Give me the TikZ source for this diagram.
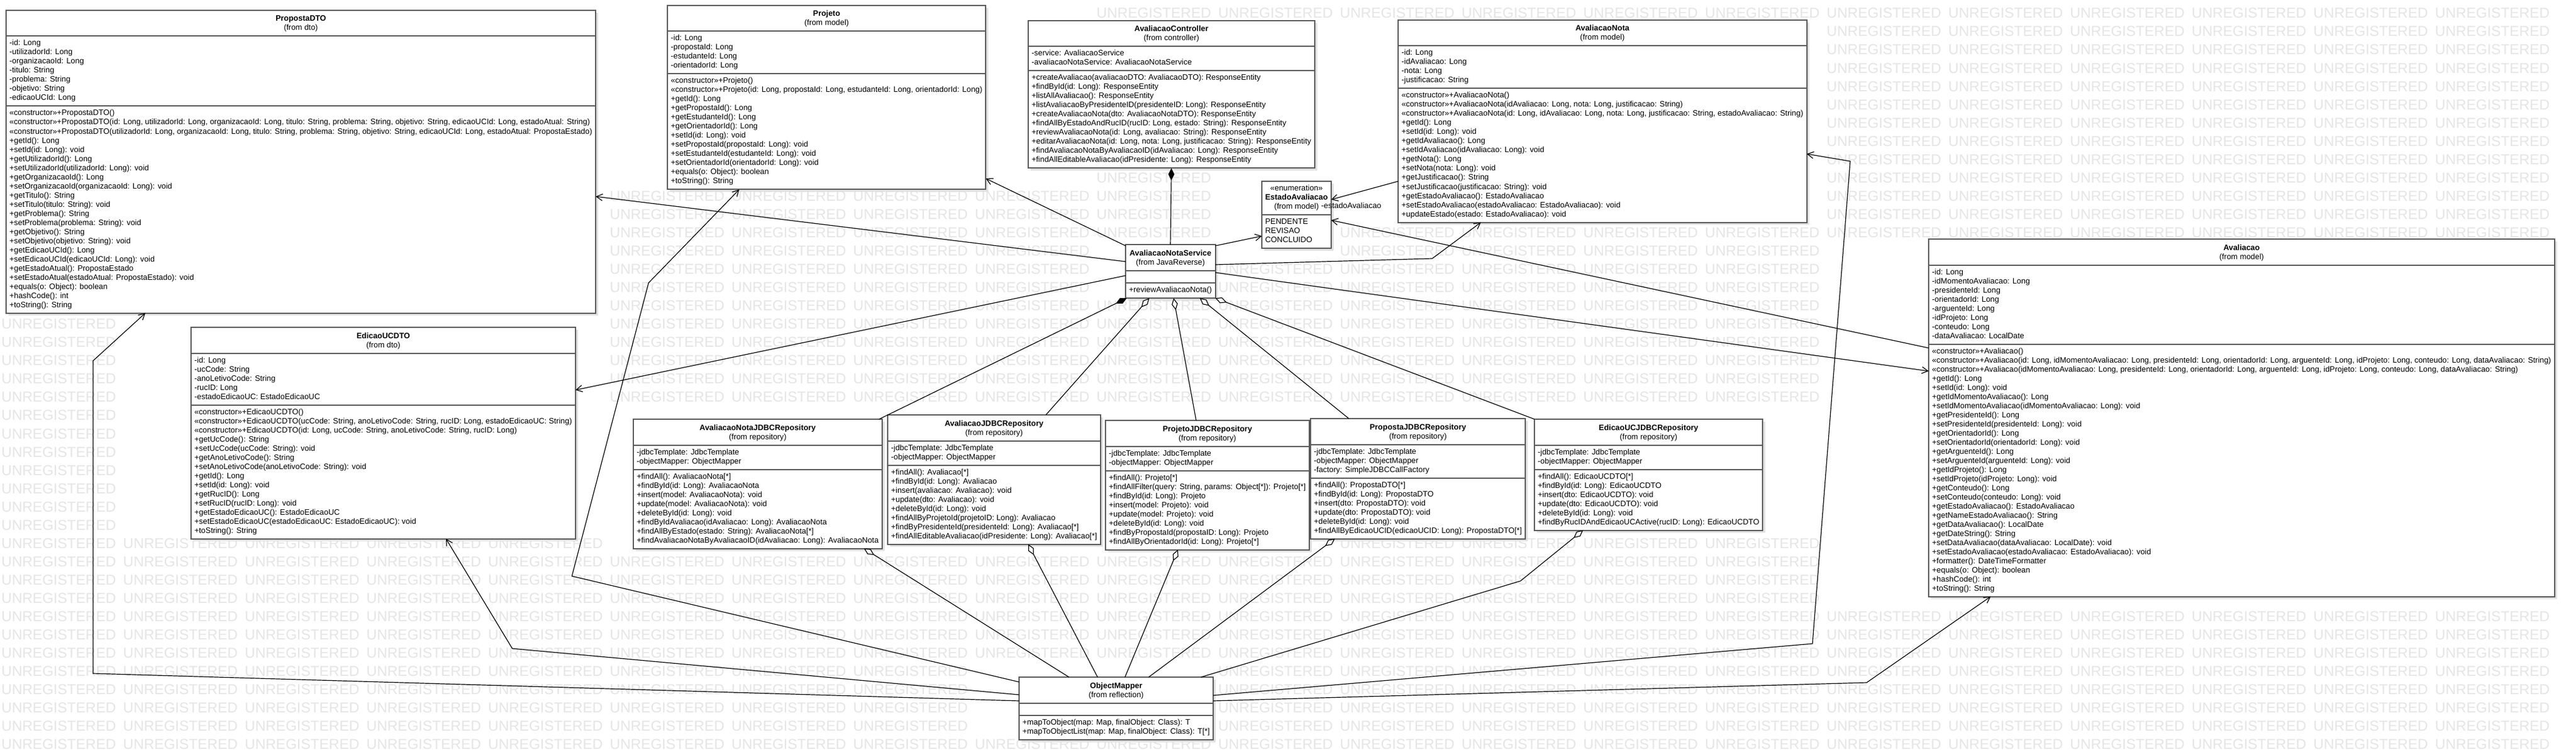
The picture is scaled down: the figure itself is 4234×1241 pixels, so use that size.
\documentclass[tikz,border=0pt]{standalone}
\usepackage{fontspec}
\setmainfont{Liberation Sans}
\usetikzlibrary{shapes.multipart,arrows.meta,shadows}

\newcommand{\umlfont}{\fontsize{6.45}{7.5}\selectfont}
\newcommand{\wmfont}{\fontsize{11.85}{12}\selectfont}
\newcommand{\umlhead}[2]{\begin{tabular}{@{}c@{}}\rule{0pt}{6.5pt}\textbf{#1}\\(from #2)\end{tabular}}
\newcommand{\umlpart}[1]{\begin{tabular}{@{}l@{}}#1\end{tabular}}

\begin{document}
\begin{tikzpicture}[x=0.5pt, y=-0.5pt,
    umlclass/.style={rectangle split, rectangle split parts=3,
        rectangle split part align={center,left,left},
        draw=black!65, line width=1pt, fill=white, anchor=north west,
        inner xsep=2.8pt, inner ysep=2pt, outer sep=0pt, font=\umlfont,
        drop shadow={shadow xshift=2pt, shadow yshift=-2pt, fill=black!12, opacity=1}},
    emptypart/.style={rectangle split empty part height=1pt, rectangle split empty part depth=0pt},
    wmark/.style={anchor=west, inner sep=0pt, text=black!10, font=\wmfont},
    assoc/.style={-{Straight Barb[length=5pt,width=5.5pt]}, line width=0.6pt},
    aggr/.style={{Diamond[open,fill=white,length=10pt,width=5pt]}-, line width=0.6pt},
    comp/.style={{Diamond[length=10pt,width=5pt]}-, line width=0.6pt}]

    \fill[white] (0,0) rectangle (4234,1241);
    \useasboundingbox (0,0) rectangle (4234,1241);

    \foreach \m in {0,...,40}{
        \foreach \k in {0,...,20}{
            \pgfmathsetmacro\wmx{2+200*\k}
            \pgfmathsetmacro\wmy{21.7+30.05*\m}
            \gdef\wmshow{1}
            \foreach \bl/\bt/\br/\bb in {10/17/980/512, 1097/9/1622/309, 1690/34/2162/272, 2298/33/2970/363,
                    2074/298/2190/407, 1850/402/2001/478, 3170/393/4199/976, 314/538/950/882,
                    1041/689/1452/899, 1459/682/1809/891, 1817/691/2154/899, 2154/688/2510/883,
                    2522/689/2901/868, 1675/1113/1993/1205, 2165/326/2275/350}{
                \pgfmathtruncatemacro\wmhit{and(and(\wmx+190>\bl,\wmx<\br),and(\wmy+10>\bt,\wmy-10<\bb))}
                \ifnum\wmhit=1 \gdef\wmshow{0}\fi
            }
            \ifnum\wmshow=1
                \node[wmark] (wm-\m-\k) at (\wmx,\wmy) {UNREGISTERED};
            \fi
        }
    }

    \node[umlclass, minimum width=483pt] (propdto) at (10,17) {\umlhead{PropostaDTO}{dto}%
        \nodepart{two}\umlpart{-id: Long\\-utilizadorId: Long\\-organizacaoId: Long\\-titulo: String\\-problema: String\\-objetivo: String\\-edicaoUCId: Long}%
        \nodepart{three}\umlpart{«constructor»+PropostaDTO()\\
            «constructor»+PropostaDTO(id: Long, utilizadorId: Long, organizacaoId: Long, titulo: String, problema: String, objetivo: String, edicaoUCId: Long, estadoAtual: String)\\
            «constructor»+PropostaDTO(utilizadorId: Long, organizacaoId: Long, titulo: String, problema: String, objetivo: String, edicaoUCId: Long, estadoAtual: PropostaEstado)\\
            +getId(): Long\\+setId(id: Long): void\\+getUtilizadorId(): Long\\+setUtilizadorId(utilizadorId: Long): void\\
            +getOrganizacaoId(): Long\\+setOrganizacaoId(organizacaoId: Long): void\\+getTitulo(): String\\+setTitulo(titulo: String): void\\
            +getProblema(): String\\+setProblema(problema: String): void\\+getObjetivo(): String\\+setObjetivo(objetivo: String): void\\
            +getEdicaoUCId(): Long\\+setEdicaoUCId(edicaoUCId: Long): void\\+getEstadoAtual(): PropostaEstado\\
            +setEstadoAtual(estadoAtual: PropostaEstado): void\\+equals(o: Object): boolean\\+hashCode(): int\\+toString(): String}};

    \node[umlclass, minimum width=260.5pt] (projeto) at (1097,9) {\umlhead{Projeto}{model}%
        \nodepart{two}\umlpart{-id: Long\\-propostaId: Long\\-estudanteId: Long\\-orientadorId: Long}%
        \nodepart{three}\umlpart{«constructor»+Projeto()\\
            «constructor»+Projeto(id: Long, propostaId: Long, estudanteId: Long, orientadorId: Long)\\
            +getId(): Long\\+getPropostaId(): Long\\+getEstudanteId(): Long\\+getOrientadorId(): Long\\+setId(id: Long): void\\
            +setPropostaId(propostaId: Long): void\\+setEstudanteId(estudanteId: Long): void\\+setOrientadorId(orientadorId: Long): void\\
            +equals(o: Object): boolean\\+toString(): String}};

    \node[umlclass, minimum width=234pt] (ctrl) at (1690,34) {\umlhead{AvaliacaoController}{controller}%
        \nodepart{two}\umlpart{-service: AvaliacaoService\\-avaliacaoNotaService: AvaliacaoNotaService}%
        \nodepart{three}\umlpart{+createAvaliacao(avaliacaoDTO: AvaliacaoDTO): ResponseEntity\\+findById(id: Long): ResponseEntity\\
            +listAllAvaliacao(): ResponseEntity\\+listAvaliacaoByPresidenteID(presidenteID: Long): ResponseEntity\\
            +createAvaliacaoNota(dto: AvaliacaoNotaDTO): ResponseEntity\\+findAllByEstadoAndRucID(rucID: Long, estado: String): ResponseEntity\\
            +reviewAvaliacaoNota(id: Long, avaliacao: String): ResponseEntity\\+editarAvaliacaoNota(id: Long, nota: Long, justificacao: String): ResponseEntity\\
            +findAvaliacaoNotaByAvaliacaoID(idAvaliacao: Long): ResponseEntity\\+findAllEditableAvaliacao(idPresidente: Long): ResponseEntity}};

    \node[umlclass, minimum width=334pt] (avnota) at (2298,33) {\umlhead{AvaliacaoNota}{model}%
        \nodepart{two}\umlpart{-id: Long\\-idAvaliacao: Long\\-nota: Long\\-justificacao: String}%
        \nodepart{three}\umlpart{«constructor»+AvaliacaoNota()\\
            «constructor»+AvaliacaoNota(idAvaliacao: Long, nota: Long, justificacao: String)\\
            «constructor»+AvaliacaoNota(id: Long, idAvaliacao: Long, nota: Long, justificacao: String, estadoAvaliacao: String)\\
            +getId(): Long\\+setId(id: Long): void\\+getIdAvaliacao(): Long\\+setIdAvaliacao(idAvaliacao: Long): void\\
            +getNota(): Long\\+setNota(nota: Long): void\\+getJustificacao(): String\\+setJustificacao(justificacao: String): void\\
            +getEstadoAvaliacao(): EstadoAvaliacao\\+setEstadoAvaliacao(estadoAvaliacao: EstadoAvaliacao): void\\
            +updateEstado(estado: EstadoAvaliacao): void}};

    \node[umlclass, rectangle split parts=2, rectangle split part align={center,left}, minimum width=56pt] (estado) at (2074,298)
        {\begin{tabular}{@{}c@{}}«enumeration»\\\textbf{EstadoAvaliacao}\\(from model)\end{tabular}%
        \nodepart{two}\umlpart{PENDENTE\\REVISAO\\CONCLUIDO}};

    \node[umlclass, emptypart, minimum width=73.5pt] (svc) at (1850,402) {\umlhead{AvaliacaoNotaService}{JavaReverse}%
        \nodepart{two}%
        \nodepart{three}\umlpart{+reviewAvaliacaoNota()}};

    \node[umlclass, minimum width=512.5pt] (aval) at (3170,393) {\umlhead{Avaliacao}{model}%
        \nodepart{two}\umlpart{-id: Long\\-idMomentoAvaliacao: Long\\-presidenteId: Long\\-orientadorId: Long\\-arguenteId: Long\\
            -idProjeto: Long\\-conteudo: Long\\-dataAvaliacao: LocalDate}%
        \nodepart{three}\umlpart{«constructor»+Avaliacao()\\
            «constructor»+Avaliacao(id: Long, idMomentoAvaliacao: Long, presidenteId: Long, orientadorId: Long, arguenteId: Long, idProjeto: Long, conteudo: Long, dataAvaliacao: String)\\
            «constructor»+Avaliacao(idMomentoAvaliacao: Long, presidenteId: Long, orientadorId: Long, arguenteId: Long, idProjeto: Long, conteudo: Long, dataAvaliacao: String)\\
            +getId(): Long\\+setId(id: Long): void\\+getIdMomentoAvaliacao(): Long\\+setIdMomentoAvaliacao(idMomentoAvaliacao: Long): void\\
            +getPresidenteId(): Long\\+setPresidenteId(presidenteId: Long): void\\+getOrientadorId(): Long\\+setOrientadorId(orientadorId: Long): void\\
            +getArguenteId(): Long\\+setArguenteId(arguenteId: Long): void\\+getIdProjeto(): Long\\+setIdProjeto(idProjeto: Long): void\\
            +getConteudo(): Long\\+setConteudo(conteudo: Long): void\\+getEstadoAvaliacao(): EstadoAvaliacao\\+getNameEstadoAvaliacao(): String\\
            +getDataAvaliacao(): LocalDate\\+getDateString(): String\\+setDataAvaliacao(dataAvaliacao: LocalDate): void\\
            +setEstadoAvaliacao(estadoAvaliacao: EstadoAvaliacao): void\\+formatter(): DateTimeFormatter\\
            +equals(o: Object): boolean\\+hashCode(): int\\+toString(): String}};

    \node[umlclass, minimum width=316pt] (ucdto) at (314,538) {\umlhead{EdicaoUCDTO}{dto}%
        \nodepart{two}\umlpart{-id: Long\\-ucCode: String\\-anoLetivoCode: String\\-rucID: Long\\-estadoEdicaoUC: EstadoEdicaoUC}%
        \nodepart{three}\umlpart{«constructor»+EdicaoUCDTO()\\
            «constructor»+EdicaoUCDTO(ucCode: String, anoLetivoCode: String, rucID: Long, estadoEdicaoUC: String)\\
            «constructor»+EdicaoUCDTO(id: Long, ucCode: String, anoLetivoCode: String, rucID: Long)\\
            +getUcCode(): String\\+setUcCode(ucCode: String): void\\+getAnoLetivoCode(): String\\
            +setAnoLetivoCode(anoLetivoCode: String): void\\+getId(): Long\\+setId(id: Long): void\\+getRucID(): Long\\
            +setRucID(rucID: Long): void\\+getEstadoEdicaoUC(): EstadoEdicaoUC\\+setEstadoEdicaoUC(estadoEdicaoUC: EstadoEdicaoUC): void\\
            +toString(): String}};

    \node[umlclass, minimum width=203.5pt] (notarepo) at (1041,689) {\umlhead{AvaliacaoNotaJDBCRepository}{repository}%
        \nodepart{two}\umlpart{-jdbcTemplate: JdbcTemplate\\-objectMapper: ObjectMapper}%
        \nodepart{three}\umlpart{+findAll(): AvaliacaoNota[*]\\+findById(id: Long): AvaliacaoNota\\+insert(model: AvaliacaoNota): void\\
            +update(model: AvaliacaoNota): void\\+deleteById(id: Long): void\\+findByIdAvaliacao(idAvaliacao: Long): AvaliacaoNota\\
            +findAllByEstado(estado: String): AvaliacaoNota[*]\\+findAvaliacaoNotaByAvaliacaoID(idAvaliacao: Long): AvaliacaoNota}};

    \node[umlclass, minimum width=173pt] (avalrepo) at (1459,682) {\umlhead{AvaliacaoJDBCRepository}{repository}%
        \nodepart{two}\umlpart{-jdbcTemplate: JdbcTemplate\\-objectMapper: ObjectMapper}%
        \nodepart{three}\umlpart{+findAll(): Avaliacao[*]\\+findById(id: Long): Avaliacao\\+insert(avaliacao: Avaliacao): void\\
            +update(dto: Avaliacao): void\\+deleteById(id: Long): void\\+findAllByProjetoId(projetoID: Long): Avaliacao\\
            +findByPresidenteId(presidenteId: Long): Avaliacao[*]\\+findAllEditableAvaliacao(idPresidente: Long): Avaliacao[*]}};

    \node[umlclass, minimum width=166.5pt] (projrepo) at (1817,691) {\umlhead{ProjetoJDBCRepository}{repository}%
        \nodepart{two}\umlpart{-jdbcTemplate: JdbcTemplate\\-objectMapper: ObjectMapper}%
        \nodepart{three}\umlpart{+findAll(): Projeto[*]\\+findAllFilter(query: String, params: Object[*]): Projeto[*]\\
            +findById(id: Long): Projeto\\+insert(model: Projeto): void\\+update(model: Projeto): void\\+deleteById(id: Long): void\\
            +findByPropostaId(propostaID: Long): Projeto\\+findAllByOrientadorId(id: Long): Projeto[*]}};

    \node[umlclass, minimum width=176pt] (proprepo) at (2154,688) {\umlhead{PropostaJDBCRepository}{repository}%
        \nodepart{two}\umlpart{-jdbcTemplate: JdbcTemplate\\-objectMapper: ObjectMapper\\-factory: SimpleJDBCCallFactory}%
        \nodepart{three}\umlpart{+findAll(): PropostaDTO[*]\\+findById(id: Long): PropostaDTO\\+insert(dto: PropostaDTO): void\\
            +update(dto: PropostaDTO): void\\+deleteById(id: Long): void\\+findAllByEdicaoUCID(edicaoUCID: Long): PropostaDTO[*]}};

    \node[umlclass, minimum width=187.5pt] (ucrepo) at (2522,689) {\umlhead{EdicaoUCJDBCRepository}{repository}%
        \nodepart{two}\umlpart{-jdbcTemplate: JdbcTemplate\\-objectMapper: ObjectMapper}%
        \nodepart{three}\umlpart{+findAll(): EdicaoUCDTO[*]\\+findById(id: Long): EdicaoUCDTO\\+insert(dto: EdicaoUCDTO): void\\
            +update(dto: EdicaoUCDTO): void\\+deleteById(id: Long): void\\+findByRucIDAndEdicaoUCActive(rucID: Long): EdicaoUCDTO}};

    \node[umlclass, emptypart, minimum width=157pt] (mapper) at (1675,1113) {\umlhead{ObjectMapper}{reflection}%
        \nodepart{two}%
        \nodepart{three}\umlpart{+mapToObject(map: Map, finalObject: Class): T\\+mapToObjectList(map: Map, finalObject: Class): T[*]}};

    \path[comp] (ctrl.south) edge (svc.north);

    \path[assoc]
    ([shift={(0,2)}]svc.north west) edge ([shift={(0,-18)}]projeto.south east)
    ([shift={(0,28)}]svc.north west) edge ([shift={(0,306)}]propdto.north east)
    ([shift={(0,51)}]svc.north west) edge ([shift={(0,103)}]ucdto.north east)
    ([shift={(0,2)}]svc.north east) edge ([shift={(0,-20)}]estado.south west)
    ([shift={(0,46)}]svc.north east) edge ([shift={(0,217)}]aval.north west)
    ([shift={(0,179)}]aval.north west) edge ([shift={(0,64)}]estado.north east)
    ([shift={(0,265)}]avnota.north west) edge node[pos=0.7, yshift=-9.5pt, inner sep=0pt, font=\umlfont] (rolelbl) {-estadoAvaliacao} ([shift={(0,30)}]estado.north east);

    \draw[assoc] ([shift={(0,33)}]svc.north east) -- (2354,425) -- ([shift={(136,0)}]avnota.south west);

    \path[comp] ([shift={(2,0)}]svc.south west) edge ([shift={(-5,0)}]notarepo.north east);

    \path[aggr]
    ([shift={(39,0)}]svc.south west) edge ([shift={(260,0)}]avalrepo.north west)
    ([shift={(79,0)}]svc.south west) edge ([shift={(149,0)}]projrepo.north west)
    ([shift={(122,0)}]svc.south west) edge ([shift={(63,0)}]proprepo.north west)
    (svc.south east) edge (ucrepo.north west)

    ([shift={(379,0)}]notarepo.south west) edge ([shift={(82,0)}]mapper.north west)
    ([shift={(231,0)}]avalrepo.south west) edge ([shift={(129,0)}]mapper.north west)
    ([shift={(119,0)}]projrepo.south west) edge ([shift={(174,0)}]mapper.north west)
    ([shift={(40,0)}]proprepo.south west) edge ([shift={(213,0)}]mapper.north west);

    \draw[aggr] ([shift={(80,0)}]ucrepo.south west) -- (2499,955) -- ([shift={(299,0)}]mapper.north west);

    \draw[assoc] ([shift={(0,8)}]mapper.north west) -- (940,947) -- (1066,465) -- ([shift={(118,0)}]projeto.south west);
    \draw[assoc] ([shift={(0,29)}]mapper.north west) -- (842,1066) -- ([shift={(419,0)}]ucdto.south west);
    \draw[assoc] ([shift={(0,39)}]mapper.north west) -- (153,1107) -- (153,593) -- ([shift={(229,0)}]propdto.south west);
    \draw[assoc] ([shift={(0,30)}]mapper.north east) -- (2979,1058) -- (3041,265) -- ([shift={(0,220)}]avnota.north east);
    \draw[assoc] ([shift={(0,39)}]mapper.north east) -- (3068,1122) -- ([shift={(102,0)}]aval.south west);

\end{tikzpicture}
\end{document}
